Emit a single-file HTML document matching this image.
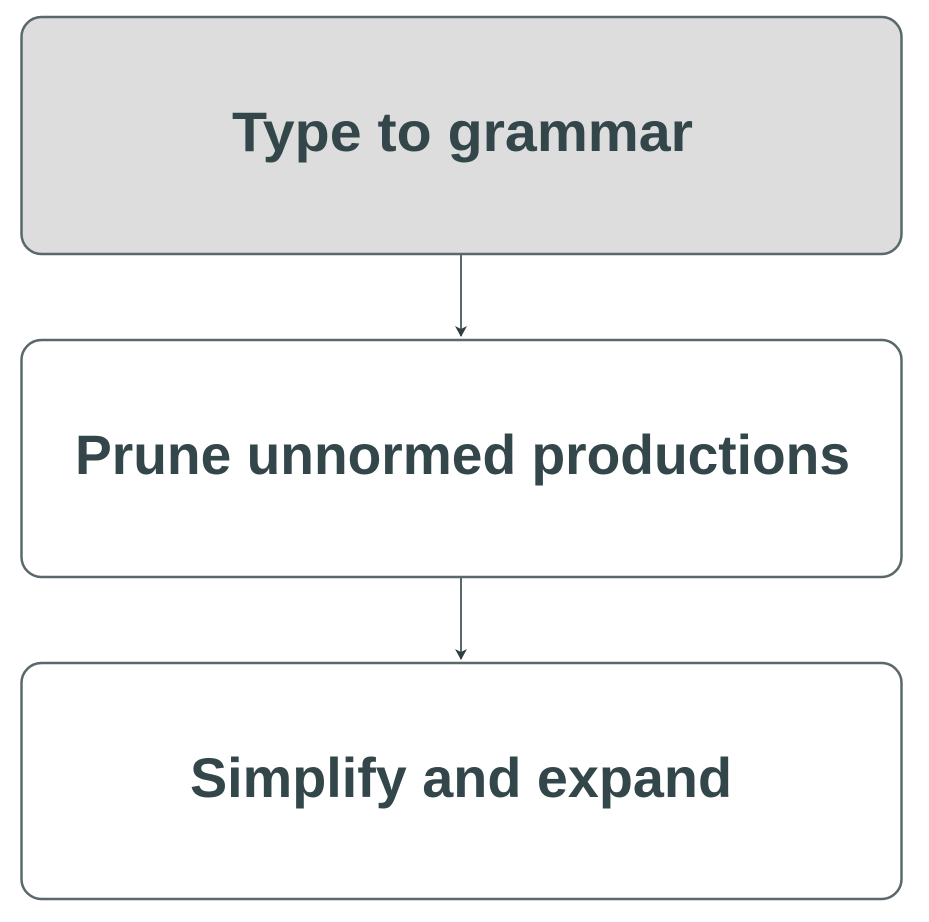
<!DOCTYPE html>
<html><head><meta charset="utf-8"><style>html,body{margin:0;padding:0;background:#fff}svg{display:block}</style></head>
<body>
<svg width="929" height="922" viewBox="0 0 929 922" xmlns="http://www.w3.org/2000/svg">
<defs><marker id="a" markerWidth="12" markerHeight="12" refX="10" refY="6" orient="auto" markerUnits="userSpaceOnUse"><path d="M0,0 L11,6 L0,12 L3,6 Z" fill="#2f3e42"/></marker></defs>
<g stroke="#5a686b" stroke-width="2.5">
<rect x="21.5" y="17" width="880" height="237" rx="20" fill="#dddddd"/>
<rect x="21.5" y="340" width="880" height="237" rx="20" fill="#fff"/>
<rect x="21.5" y="663" width="880" height="236" rx="20" fill="#fff"/>
<line x1="461" y1="255" x2="461" y2="336" stroke-width="2" marker-end="url(#a)"/>
<line x1="461" y1="578" x2="461" y2="659" stroke-width="2" marker-end="url(#a)"/>
</g>
<g font-family="Liberation Sans, sans-serif" font-weight="bold" font-size="56" fill="#33474a">
<text x="232" y="151" textLength="461" lengthAdjust="spacingAndGlyphs">Type to grammar</text>
<text x="75" y="474" textLength="775" lengthAdjust="spacingAndGlyphs">Prune unnormed productions</text>
<text x="190" y="797" textLength="542" lengthAdjust="spacingAndGlyphs">Simplify and expand</text>
</g>
</svg>
</body></html>
